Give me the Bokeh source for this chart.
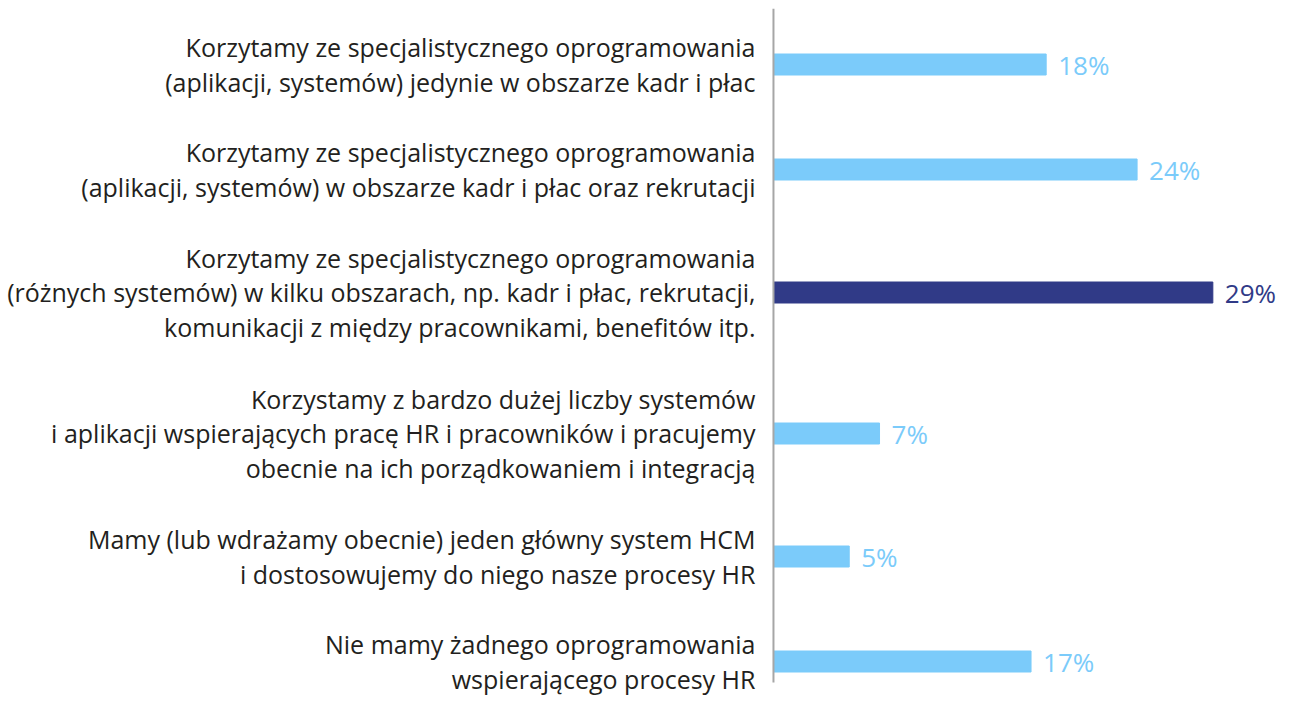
from bokeh.plotting import figure
from bokeh.models import Range1d, ColumnDataSource
from bokeh.core.properties import value
from bokeh.embed import file_html
from bokeh.resources import INLINE

categories = [
    "Korzytamy ze specjalistycznego oprogramowania\n(aplikacji, systemów) jedynie w obszarze kadr i płac",
    "Korzytamy ze specjalistycznego oprogramowania\n(aplikacji, systemów) w obszarze kadr i płac oraz rekrutacji",
    "Korzytamy ze specjalistycznego oprogramowania\n(różnych systemów) w kilku obszarach, np. kadr i płac, rekrutacji,\nkomunikacji z między pracownikami, benefitów itp.",
    "Korzystamy z bardzo dużej liczby systemów\ni aplikacji wspierających pracę HR i pracowników i pracujemy\nobecnie na ich porządkowaniem i integracją",
    "Mamy (lub wdrażamy obecnie) jeden główny system HCM\ni dostosowujemy do niego nasze procesy HR",
    "Nie mamy żadnego oprogramowania\nwspierającego procesy HR",
]
values = [18, 24, 29, 7, 5, 17]
value_labels = ["18%", "24%", "29%", "7%", "5%", "17%"]
highlight = [False, False, True, False, False, False]

LIGHT = "#7bcbfa"
DARK = "#303a87"

# vertical layout: each category gets a slot sized by its number of text lines
lines = [c.count("\n") + 1 for c in categories]
slots = [33 + 36 * n for n in lines]
ys = []
acc = 3.5
for s in slots:
    ys.append(acc + s / 2)
    acc += s
axis_end = ys[-1] + 21

colors = [DARK if h else LIGHT for h in highlight]

src = ColumnDataSource(dict(
    y=ys, value=values, label=value_labels, cat=categories, color=colors,
    zero=[0] * len(values),
))

p = figure(width=1304, height=705, output_backend="svg", toolbar_location=None,
           x_range=Range1d(-51.02, 35.05), y_range=Range1d(697, 0),
           x_axis_location=None, y_axis_location=None, min_border=0,
           min_border_top=8, outline_line_color=None)
p.grid.visible = False

p.hbar(y="y", left=0, right="value", height=21, color="color", source=src)

# vertical category axis line
p.segment(x0=[0], y0=[0], x1=[0], y1=[axis_end], line_color="#a6a6a6", line_width=2)

p.text(x="zero", y="y", text="cat", source=src, x_offset=-18,
       text_align="right", text_baseline="middle",
       text_font=value("Open Sans"), text_font_size="25px",
       text_color="#231f20", text_line_height=1.02)

p.text(x="value", y="y", text="label", source=src, x_offset=12,
       text_align="left", text_baseline="middle",
       text_font=value("Open Sans"), text_font_size="26px",
       text_color="color")

open("out.html", "w").write(file_html(p, INLINE))
